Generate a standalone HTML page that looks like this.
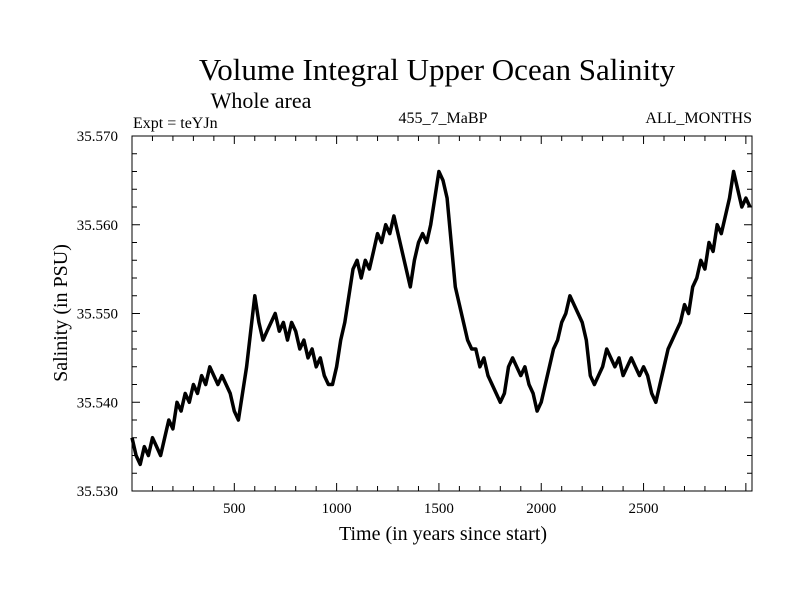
<!DOCTYPE html>
<html><head><meta charset="utf-8"><style>
body{margin:0;background:#fff}
svg text{font-family:"Liberation Serif",serif;fill:#000}
</style></head><body>
<svg width="800" height="600" viewBox="0 0 800 600">
<rect width="800" height="600" fill="#fff"/>
<text x="437" y="80" font-size="31" text-anchor="middle">Volume Integral Upper Ocean Salinity</text>
<text x="261" y="108" font-size="22" text-anchor="middle">Whole area</text>
<text x="133" y="128" font-size="16">Expt = teYJn</text>
<text x="443" y="123" font-size="16" text-anchor="middle">455_7_MaBP</text>
<text x="752" y="123" font-size="16" text-anchor="end">ALL_MONTHS</text>
<text transform="translate(67,313) rotate(-90)" font-size="20" text-anchor="middle">Salinity (in PSU)</text>
<text x="443" y="540" font-size="20" text-anchor="middle">Time (in years since start)</text>
<g id="axes"></g>
<path id="series" fill="none" stroke="#000" stroke-width="3.5" stroke-linejoin="round"/>
<rect x="132" y="136" width="620" height="355" fill="none" stroke="#000" stroke-width="1"/>
</svg>
<script>
const years = [];
for (let i = 0; i < 152; i++) years.push(i * 20);
const salinity = [35.536,35.534,35.533,35.535,35.534,35.536,35.535,35.534,35.536,35.538,35.537,35.540,35.539,35.541,35.540,35.542,35.541,35.543,35.542,35.544,35.543,35.542,35.543,35.542,35.541,35.539,35.538,35.541,35.544,35.548,35.552,35.549,35.547,35.548,35.549,35.550,35.548,35.549,35.547,35.549,35.548,35.546,35.547,35.545,35.546,35.544,35.545,35.543,35.542,35.542,35.544,35.547,35.549,35.552,35.555,35.556,35.554,35.556,35.555,35.557,35.559,35.558,35.560,35.559,35.561,35.559,35.557,35.555,35.553,35.556,35.558,35.559,35.558,35.560,35.563,35.566,35.565,35.563,35.558,35.553,35.551,35.549,35.547,35.546,35.546,35.544,35.545,35.543,35.542,35.541,35.540,35.541,35.544,35.545,35.544,35.543,35.544,35.542,35.541,35.539,35.540,35.542,35.544,35.546,35.547,35.549,35.550,35.552,35.551,35.550,35.549,35.547,35.543,35.542,35.543,35.544,35.546,35.545,35.544,35.545,35.543,35.544,35.545,35.544,35.543,35.544,35.543,35.541,35.540,35.542,35.544,35.546,35.547,35.548,35.549,35.551,35.550,35.553,35.554,35.556,35.555,35.558,35.557,35.560,35.559,35.561,35.563,35.566,35.564,35.562,35.563,35.562];
const xTickLabels = [500,1000,1500,2000,2500];
const yTickLabels = ["35.530","35.540","35.550","35.560","35.570"];
const X0=132,X1=752,Y0=136,Y1=491;
const xMin=0,xMax=3030,yMin=35.530,yMax=35.570;
const xs=v=>X0+(v-xMin)/(xMax-xMin)*(X1-X0);
const ys=v=>Y1-(v-yMin)/(yMax-yMin)*(Y1-Y0);
const NS="http://www.w3.org/2000/svg";
const axes=document.getElementById('axes');
function line(x1,y1,x2,y2){const l=document.createElementNS(NS,'line');l.setAttribute('x1',x1);l.setAttribute('y1',y1);l.setAttribute('x2',x2);l.setAttribute('y2',y2);l.setAttribute('stroke','#000');l.setAttribute('stroke-width','1');


axes.appendChild(l);}
for(let t=100;t<xMax;t+=100){const x=xs(t);const L=(t%500===0)?8:5;line(x,Y1,x,Y1-L);line(x,Y0,x,Y0+L);}
for(let k=0;k<=20;k++){const v=yMin+k*0.002;const y=ys(v);const L=(k%5===0)?8:5;line(X0,y,X0+L,y);line(X1,y,X1-L,y);}
xTickLabels.forEach(t=>{const e=document.createElementNS(NS,'text');e.setAttribute('x',xs(t));e.setAttribute('y',Y1+22);e.setAttribute('font-size','15');e.setAttribute('text-anchor','middle');e.textContent=t;


axes.appendChild(e);});
yTickLabels.forEach(s=>{const e=document.createElementNS(NS,'text');e.setAttribute('x',118);e.setAttribute('y',ys(parseFloat(s))+5);e.setAttribute('font-size','15');e.setAttribute('text-anchor','end');e.textContent=s;


axes.appendChild(e);});
let d='';
salinity.forEach((v,i)=>{d+=(i?'L':'M')+xs(Math.min(years[i],xMax)).toFixed(1)+','+ys(v).toFixed(1);});
document.getElementById('series').setAttribute('d',d);
</script>
</body></html>
